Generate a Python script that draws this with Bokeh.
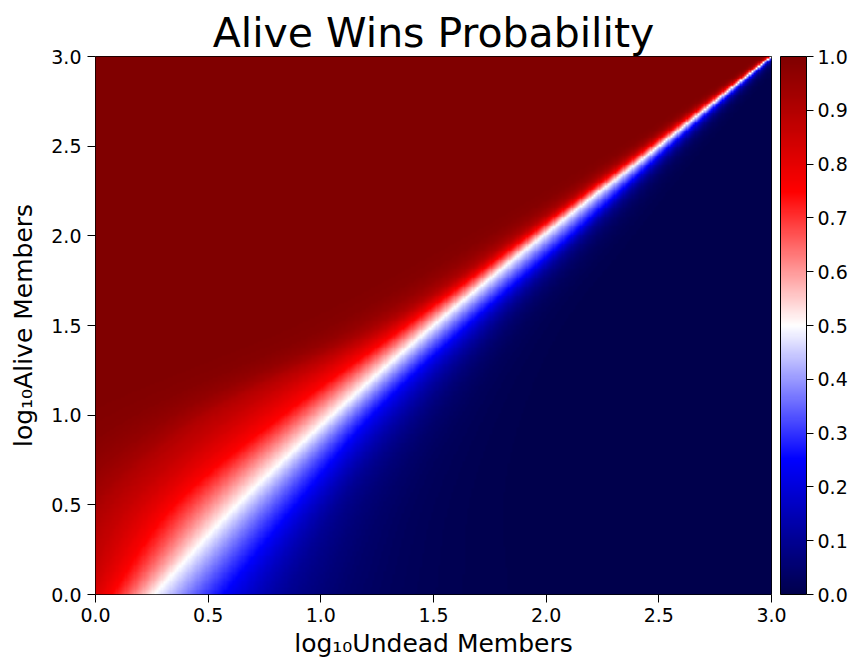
import numpy as np
from bokeh.plotting import figure
from bokeh.models import (LinearColorMapper, ColorBar, FixedTicker, Range1d,
                          PrintfTickFormatter)
from bokeh.embed import file_html
from bokeh.resources import INLINE

# ---- data ----
# Rows of log10(Alive Members) at which the profile was read
row_log_alive = [0.0, 0.5, 1.0, 1.5, 2.0, 2.5, 3.0]
# Probability levels whose crossing positions were read along each row
prob_levels = [0.98, 0.9, 0.75, 0.5, 0.25, 0.1, 0.02]
# log10(Undead Members) at which each probability level is reached, per row
cross_row_00 = [-0.5, -0.12, 0.07, 0.26, 0.57, 0.85, 1.35]
cross_row_05 = [-0.3, 0.05, 0.35, 0.63, 0.89, 1.08, 1.45]
cross_row_10 = [0.22, 0.5, 0.83, 1.05, 1.23, 1.40, 1.65]
cross_row_15 = [1.08, 1.27, 1.38, 1.50, 1.65, 1.76, 1.92]
cross_row_20 = [1.76, 1.87, 1.92, 1.985, 2.11, 2.17, 2.28]
cross_row_25 = [2.38, 2.43, 2.46, 2.50, 2.55, 2.59, 2.65]
cross_row_30 = [2.965, 2.98, 2.99, 3.0, 3.012, 3.025, 3.05]

axis_ticks = [0.0, 0.5, 1.0, 1.5, 2.0, 2.5, 3.0]
cbar_ticks = [0.0, 0.1, 0.2, 0.3, 0.4, 0.5, 0.6, 0.7, 0.8, 0.9, 1.0]


def smooth_interp(xq, xp, fp):
    """Cubic Hermite (Catmull-Rom) curve through the read points."""
    xp = np.asarray(xp, float)
    fp = np.asarray(fp, float)
    n = len(xp)
    m = np.zeros(n)
    m[0] = (fp[1] - fp[0]) / (xp[1] - xp[0])
    m[-1] = (fp[-1] - fp[-2]) / (xp[-1] - xp[-2])
    for i in range(1, n - 1):
        m[i] = (fp[i + 1] - fp[i - 1]) / (xp[i + 1] - xp[i - 1])
    xq = np.atleast_1d(np.asarray(xq, float))
    i = np.clip(np.searchsorted(xp, xq) - 1, 0, n - 2)
    h = xp[i + 1] - xp[i]
    t = (xq - xp[i]) / h
    h00 = 2 * t**3 - 3 * t**2 + 1
    h10 = t**3 - 2 * t**2 + t
    h01 = -2 * t**3 + 3 * t**2
    h11 = t**3 - t**2
    return h00 * fp[i] + h10 * h * m[i] + h01 * fp[i + 1] + h11 * h * m[i + 1]


# ---- build the probability field from the read profiles ----
crossings = np.array([cross_row_00, cross_row_05, cross_row_10, cross_row_15,
                      cross_row_20, cross_row_25, cross_row_30])
N = 300
xs = (np.arange(N) + 0.5) * 3.0 / N
ys = (np.arange(N) + 0.5) * 3.0 / N
lev = np.array(prob_levels)
logit = np.log(lev / (1 - lev))
cross_at_y = np.stack([smooth_interp(ys, row_log_alive, crossings[:, k])
                       for k in range(len(lev))], axis=1)
cross_at_y = np.maximum.accumulate(cross_at_y + 1e-6 * np.arange(len(lev)), axis=1)
field = np.zeros((N, N))
for j in range(N):
    cr = cross_at_y[j]
    L = np.interp(xs, cr, logit)
    s0 = (logit[1] - logit[0]) / (cr[1] - cr[0])
    s1 = (logit[-1] - logit[-2]) / (cr[-1] - cr[-2])
    L = np.where(xs < cr[0], logit[0] + s0 * (xs - cr[0]), L)
    L = np.where(xs > cr[-1], logit[-1] + s1 * (xs - cr[-1]), L)
    field[j, :] = 1.0 / (1.0 + np.exp(-L))

# ---- seismic colour map ----
anchors = np.array([[0.0, 0.0, 0.3], [0.0, 0.0, 1.0], [1.0, 1.0, 1.0],
                    [1.0, 0.0, 0.0], [0.5, 0.0, 0.0]])
t = np.linspace(0, 1, 256)
pos = np.linspace(0, 1, 5)
palette = []
for tv in t:
    r = np.interp(tv, pos, anchors[:, 0])
    g = np.interp(tv, pos, anchors[:, 1])
    b = np.interp(tv, pos, anchors[:, 2])
    palette.append("#%02x%02x%02x" % (int(round(r * 255)), int(round(g * 255)),
                                      int(round(b * 255))))
mapper = LinearColorMapper(palette=palette, low=0.0, high=1.0)

FONT = "DejaVu Sans"

p = figure(width=850, height=660, output_backend="svg", toolbar_location=None,
           x_range=Range1d(0, 3), y_range=Range1d(0, 3),
           min_border_left=95, min_border_right=78, min_border_top=56,
           min_border_bottom=66, title="Alive Wins Probability")
p.image(image=[field], x=0, y=0, dw=3, dh=3, color_mapper=mapper)

p.title.align = "center"
p.title.text_font = FONT
p.title.text_font_size = "41px"
p.title.text_font_style = "normal"
p.title.text_color = "black"
p.title.standoff = 0

p.xgrid.visible = False
p.ygrid.visible = False
p.outline_line_color = "black"
p.outline_line_width = 1
p.outline_line_alpha = 1

for ax in (p.xaxis, p.yaxis):
    ax.ticker = FixedTicker(ticks=axis_ticks)
    ax.formatter = PrintfTickFormatter(format="%.1f")
    ax.major_label_text_font = FONT
    ax.major_label_text_font_size = "19px"
    ax.major_label_text_color = "black"
    ax.axis_label_text_font = FONT
    ax.axis_label_text_font_size = "25px"
    ax.axis_label_text_font_style = "normal"
    ax.axis_label_text_color = "black"
    ax.axis_line_color = None
    ax.major_tick_line_color = "black"
    ax.major_tick_out = 8
    ax.major_tick_in = 0
    ax.minor_tick_line_color = None

p.xaxis.major_label_standoff = 5
p.yaxis.major_label_standoff = 6
p.xaxis.axis_label = "log\u2081\u2080Undead Members"
p.yaxis.axis_label = "log\u2081\u2080Alive Members"
p.xaxis.axis_label_standoff = 4
p.yaxis.axis_label_standoff = 10

cb = ColorBar(color_mapper=mapper, ticker=FixedTicker(ticks=cbar_ticks),
              formatter=PrintfTickFormatter(format="%.1f"),
              width=26, height=538, location=(9, 0), padding=0, margin=0,
              label_standoff=4,
              major_tick_out=7, major_tick_in=0,
              major_tick_line_color="black", bar_line_color="black",
              major_label_text_font=FONT, major_label_text_font_size="19px",
              major_label_text_color="black", border_line_color=None,
              background_fill_color=None)
p.add_layout(cb, "right")

open("out.html", "w").write(file_html(p, INLINE))
